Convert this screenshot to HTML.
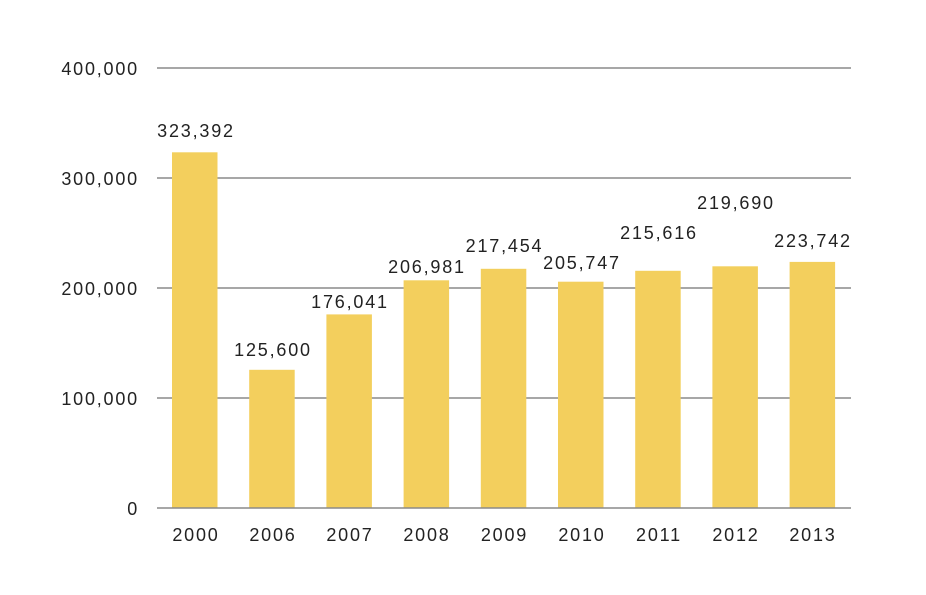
<!DOCTYPE html>
<html><head><meta charset="utf-8"><style>
html,body{margin:0;padding:0;background:#fff;}
svg{display:block;}
text{font-family:"Liberation Sans",sans-serif;font-size:18px;letter-spacing:1.8px;fill:#222;}
</style></head><body>
<svg width="926" height="595" xmlns="http://www.w3.org/2000/svg">
<g stroke="#8a8a8a" stroke-width="1.5">
<line x1="157" y1="68" x2="851" y2="68"/>
<line x1="157" y1="178" x2="851" y2="178"/>
<line x1="157" y1="288" x2="851" y2="288"/>
<line x1="157" y1="398" x2="851" y2="398"/>
</g>
<g text-anchor="end">
<text x="139" y="75">400,000</text>
<text x="139" y="185">300,000</text>
<text x="139" y="295">200,000</text>
<text x="139" y="405">100,000</text>
<text x="139" y="515">0</text>
</g>
<g fill="#f3cf5d">
<rect x="172" y="152.3" width="45.5" height="355.7"/>
<rect x="249.2" y="369.8" width="45.5" height="138.2"/>
<rect x="326.4" y="314.4" width="45.5" height="193.6"/>
<rect x="403.6" y="280.3" width="45.5" height="227.7"/>
<rect x="480.8" y="268.8" width="45.5" height="239.2"/>
<rect x="558" y="281.7" width="45.5" height="226.3"/>
<rect x="635.2" y="270.8" width="45.5" height="237.2"/>
<rect x="712.4" y="266.3" width="45.5" height="241.7"/>
<rect x="789.6" y="261.9" width="45.5" height="246.1"/>
</g>
<line x1="157" y1="508" x2="851" y2="508" stroke="#8a8a8a" stroke-width="1.5"/>
<g text-anchor="middle">
<text x="196" y="137">323,392</text>
<text x="273" y="356">125,600</text>
<text x="350" y="308">176,041</text>
<text x="427" y="273">206,981</text>
<text x="504.5" y="252">217,454</text>
<text x="582" y="269">205,747</text>
<text x="659" y="239">215,616</text>
<text x="736" y="209">219,690</text>
<text x="813" y="247">223,742</text>
<text x="196" y="541">2000</text>
<text x="273" y="541">2006</text>
<text x="350" y="541">2007</text>
<text x="427" y="541">2008</text>
<text x="504.5" y="541">2009</text>
<text x="582" y="541">2010</text>
<text x="659" y="541">2011</text>
<text x="736" y="541">2012</text>
<text x="813" y="541">2013</text>
</g>
</svg>
</body></html>
